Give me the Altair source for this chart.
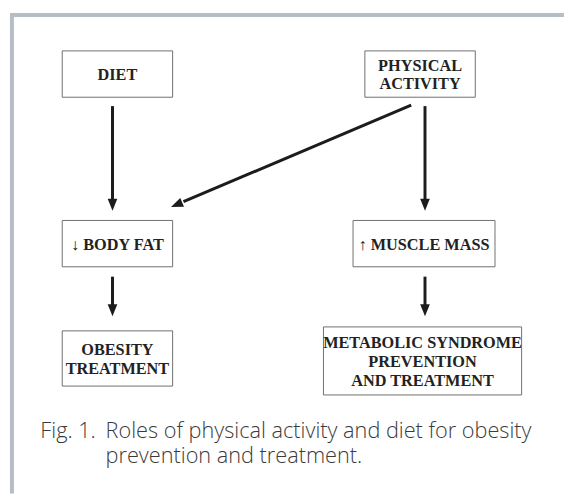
import altair as alt
import pandas as pd

# ---- content ----
node_labels = ["DIET", "PHYSICAL\nACTIVITY", "↓ BODY FAT", "↑ MUSCLE MASS",
               "OBESITY\nTREATMENT", "METABOLIC SYNDROME\nPREVENTION\nAND TREATMENT"]
caption_tag = ["Fig. 1."]
caption_lines = ["Roles of physical activity and diet for obesity",
                 "prevention and treatment."]

# ---- layout (diagram coordinates, px) ----
node_x0 = [63, 370, 63, 358, 63, 328]
node_x1 = [175, 482, 175, 502, 175, 529]
node_y0 = [48, 48, 220, 220, 332, 328]
node_y1 = [95, 95, 267, 267, 388, 397]

edge_x0 = [114, 431, 114, 431, 417]
edge_y0 = [104, 104, 277, 277, 103]
edge_x1 = [114, 431, 114, 431, 186]
edge_y1 = [201, 201, 308, 308, 201]
head_x = [114, 431, 114, 431, 179]
head_y = [204, 204, 311, 311, 204]
head_angle = [0, 0, 0, 0, 67]

frame_x0 = [10, 12]
frame_x1 = [572, 12]
frame_y0 = [11.5, 10]
frame_y1 = [11.5, 497]

tag_x = [97]
tag_y = [434]
cap_x = [107, 107]
cap_y = [434, 459]

LINE_H = 19
W, H = 564, 489
xs = alt.Scale(domain=[8, 572], nice=False, zero=False)
ys = alt.Scale(domain=[8, 497], nice=False, zero=False, reverse=True)

def X(f):
    return alt.X(f, type="quantitative", scale=xs, axis=None)

def Y(f):
    return alt.Y(f, type="quantitative", scale=ys, axis=None)

frame = pd.DataFrame({"x": frame_x0, "x2": frame_x1, "y": frame_y0, "y2": frame_y1})
nodes = pd.DataFrame({"label": node_labels, "x": node_x0, "x2": node_x1,
                      "y": node_y0, "y2": node_y1})
nodes["cx"] = (nodes.x + nodes.x2) / 2
nodes["nl"] = nodes.label.str.count("\n")
nodes["ly"] = (nodes.y + nodes.y2) / 2 - nodes.nl * LINE_H / 2 + 1
edges = pd.DataFrame({"x": edge_x0, "y": edge_y0, "x2": edge_x1, "y2": edge_y1})
heads = pd.DataFrame({"x": head_x, "y": head_y, "angle": head_angle})
tag = pd.DataFrame({"text": caption_tag, "x": tag_x, "y": tag_y})
cap = pd.DataFrame({"text": caption_lines, "x": cap_x, "y": cap_y})

frame_l = alt.Chart(frame).mark_rule(color="#b5bdc6", strokeWidth=4).encode(
    x=X("x"), x2="x2", y=Y("y"), y2="y2")

boxes = alt.Chart(nodes).mark_rect(fill="white", stroke="#6f6f6f", strokeWidth=1).encode(
    x=X("x"), x2="x2", y=Y("y"), y2="y2")

labels = alt.Chart(nodes).mark_text(
    font="Liberation Serif, DejaVu Serif, serif", fontWeight="bold", fontSize=16.5,
    lineHeight=LINE_H, lineBreak="\n", color="#222222", align="center", baseline="middle"
).encode(x=X("cx"), y=Y("ly"), text="label:N")

shafts = alt.Chart(edges).mark_rule(color="#1c1c1c", strokeWidth=3).encode(
    x=X("x"), x2="x2", y=Y("y"), y2="y2")

arrowheads = alt.Chart(heads).mark_point(
    shape="M-0.8,-1L0.8,-1L0,1Z", filled=True, color="#1c1c1c", size=150, opacity=1
).encode(x=X("x"), y=Y("y"), angle=alt.Angle("angle:Q", scale=None))

cap_style = dict(font="Open Sans", fontSize=22, fontWeight=300, color="#3a3a3a",
                 baseline="middle")
tag_l = alt.Chart(tag).mark_text(align="right", **cap_style).encode(
    x=X("x"), y=Y("y"), text="text:N")
caption = alt.Chart(cap).mark_text(align="left", **cap_style).encode(
    x=X("x"), y=Y("y"), text="text:N")

chart = alt.layer(frame_l, boxes, labels, shafts, arrowheads, tag_l, caption).properties(
    width=W, height=H, padding=0, autosize="none", background="white"
).configure_view(stroke=None)

chart.save("out.html", embed_options={"renderer": "svg", "actions": False})
